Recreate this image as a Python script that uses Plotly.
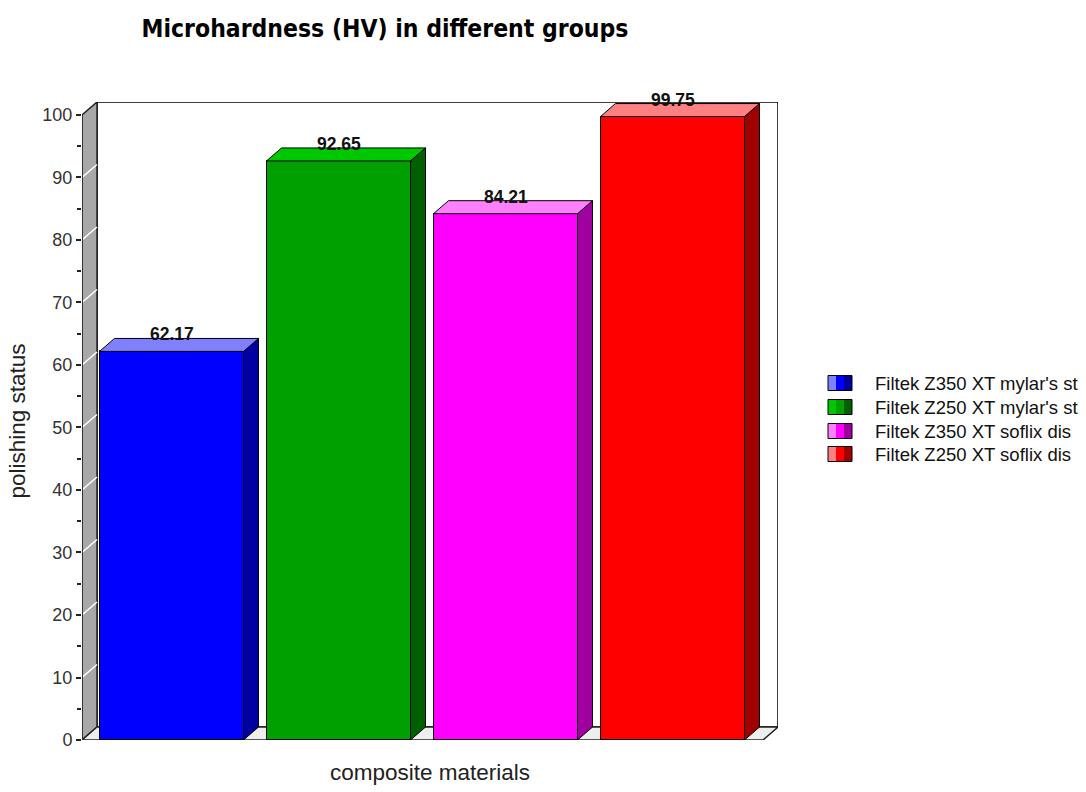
import plotly.graph_objects as go

# ---- data ----
groups = ["Filtek Z350 XT mylar's st", "Filtek Z250 XT mylar's st",
          "Filtek Z350 XT soflix dis", "Filtek Z250 XT soflix dis"]
values = [62.17, 92.65, 84.21, 99.75]
front_colors = ["#0000ff", "#00a000", "#ff00ff", "#ff0000"]
side_colors = ["#0000a0", "#006000", "#a000a0", "#a00000"]
top_colors = ["#8080ff", "#00c800", "#ff80ff", "#ff8080"]
y_ticks = [0, 10, 20, 30, 40, 50, 60, 70, 80, 90, 100]

# ---- layout constants (style / geometry) ----
W, H = 1086, 792
L, R, T, B = 82, 778, 102, 740
unit_px = 167.0
first_center_px = 171.5
bar_w = 144 / unit_px
dx = 15 / unit_px
dy = 13 / 6.26
xL = (L - first_center_px) / unit_px
xR = (R - first_center_px) / unit_px
ytop = 100 + dy
hw = bar_w / 2
FONT = "Liberation Sans, Arial, sans-serif"


def px_x(p):  # pixel -> paper x
    return (p - L) / (R - L)


def px_y(p):  # pixel -> paper y
    return (B - p) / (B - T)


fig = go.Figure()

positions = list(range(len(values)))

for i, (g, v) in enumerate(zip(groups, values)):
    fig.add_trace(go.Bar(
        x=[positions[i]], y=[v], width=bar_w, name=g,
        marker=dict(color=front_colors[i], line=dict(color="#000000", width=1)),
        showlegend=False, hoverinfo="skip"))

for i, v in enumerate(values):
    c = positions[i]
    # right side face
    fig.add_trace(go.Scatter(
        x=[c + hw, c + hw + dx, c + hw + dx, c + hw, c + hw],
        y=[0, dy, v + dy, v, 0],
        fill="toself", fillcolor=side_colors[i], mode="lines",
        line=dict(color="#000000", width=1), showlegend=False, hoverinfo="skip"))
    # top face
    fig.add_trace(go.Scatter(
        x=[c - hw, c - hw + dx, c + hw + dx, c + hw, c - hw],
        y=[v, v + dy, v + dy, v, v],
        fill="toself", fillcolor=top_colors[i], mode="lines",
        line=dict(color="#000000", width=1), showlegend=False, hoverinfo="skip"))

shapes = []
# back wall
shapes.append(dict(type="rect", xref="x", yref="y", x0=xL + dx, x1=xR, y0=dy, y1=ytop,
                   fillcolor="#ffffff", line=dict(color="#000000", width=1.5), layer="below"))
# left wall
shapes.append(dict(type="path", xref="x", yref="y",
                   path=f"M{xL},0 L{xL},100 L{xL+dx},{ytop} L{xL+dx},{dy} Z",
                   fillcolor="#a8a8a8", line=dict(color="#222222", width=1.5), layer="below"))
# floor
shapes.append(dict(type="path", xref="x", yref="y",
                   path=f"M{xL},0 L{xR-dx},0 L{xR},{dy} L{xL+dx},{dy} Z",
                   fillcolor="#eeeeee", line=dict(color="#222222", width=1.5), layer="below"))
# left wall grid lines
for t in y_ticks[1:-1]:
    shapes.append(dict(type="line", xref="x", yref="y", x0=xL, y0=t, x1=xL + dx, y1=t + dy,
                       line=dict(color="#ffffff", width=1.5), layer="below"))
# y axis line
shapes.append(dict(type="line", xref="x", yref="y", x0=xL, y0=0, x1=xL, y1=100,
                   line=dict(color="#333333", width=2)))

annotations = []
for i, v in enumerate(values):
    annotations.append(dict(x=positions[i], y=v + dy, xref="x", yref="y",
                            text=f"{v:.2f}", showarrow=False, yanchor="bottom", yshift=-8,
                            font=dict(family=FONT, size=17.5, color="#111111", weight="bold")))

# ---- legend (drawn as swatches + text) ----
leg_rows = [383, 407, 431, 454]
sw_l, sw_r, sw_h = 828, 852, 15
for i, g in enumerate(groups):
    yc = leg_rows[i]
    third = (sw_r - sw_l) / 3
    tones = [top_colors[i], front_colors[i], side_colors[i]]
    for k in range(3):
        shapes.append(dict(type="rect", xref="paper", yref="paper",
                           x0=px_x(sw_l + k * third), x1=px_x(sw_l + (k + 1) * third),
                           y0=px_y(yc + sw_h / 2), y1=px_y(yc - sw_h / 2),
                           fillcolor=tones[k], line=dict(width=0)))
    shapes.append(dict(type="rect", xref="paper", yref="paper",
                       x0=px_x(sw_l), x1=px_x(sw_r), y0=px_y(yc + sw_h / 2), y1=px_y(yc - sw_h / 2),
                       fillcolor="rgba(0,0,0,0)", line=dict(color="#000000", width=1)))
    annotations.append(dict(x=px_x(873), y=px_y(yc), xref="paper", yref="paper", text=g,
                            showarrow=False, xanchor="left", yanchor="middle",
                            font=dict(family=FONT, size=18.5, color="#111111")))

fig.update_layout(
    width=W, height=H,
    margin=dict(l=L, r=W - R, t=T, b=H - B, autoexpand=False),
    paper_bgcolor="#ffffff", plot_bgcolor="rgba(0,0,0,0)",
    title=dict(text="Microhardness (HV) in different groups", xref="container", yref="container",
               x=385 / W, xanchor="center", y=1 - 28 / H, yanchor="middle",
               font=dict(family="DejaVu Sans Condensed, Liberation Sans Narrow, DejaVu Sans",
                         size=24.5, color="#000000", weight="bold")),
    xaxis=dict(range=[xL, xR], showgrid=False, zeroline=False, showline=False,
               showticklabels=False, ticks="", fixedrange=True,
               title=dict(text="composite materials", standoff=24,
                          font=dict(family=FONT, size=22.5, color="#222222"))),
    yaxis=dict(range=[0, ytop], showgrid=False, zeroline=False, showline=False,
               tickmode="array", tickvals=y_ticks, ticktext=[str(t) for t in y_ticks],
               ticks="outside", ticklen=5, tickwidth=1.5, tickcolor="#222222",
               minor=dict(tickvals=[t + 5 for t in y_ticks[:-1]], ticks="outside", ticklen=4,
                          tickwidth=1.5, tickcolor="#222222"),
               tickfont=dict(family=FONT, size=18, color="#333333"),
               title=dict(text="polishing status", standoff=10,
                          font=dict(family=FONT, size=22.5, color="#222222"))),
    shapes=shapes, annotations=annotations,
    barmode="overlay", bargap=0, showlegend=False,
)

fig.write_html("out.html")
